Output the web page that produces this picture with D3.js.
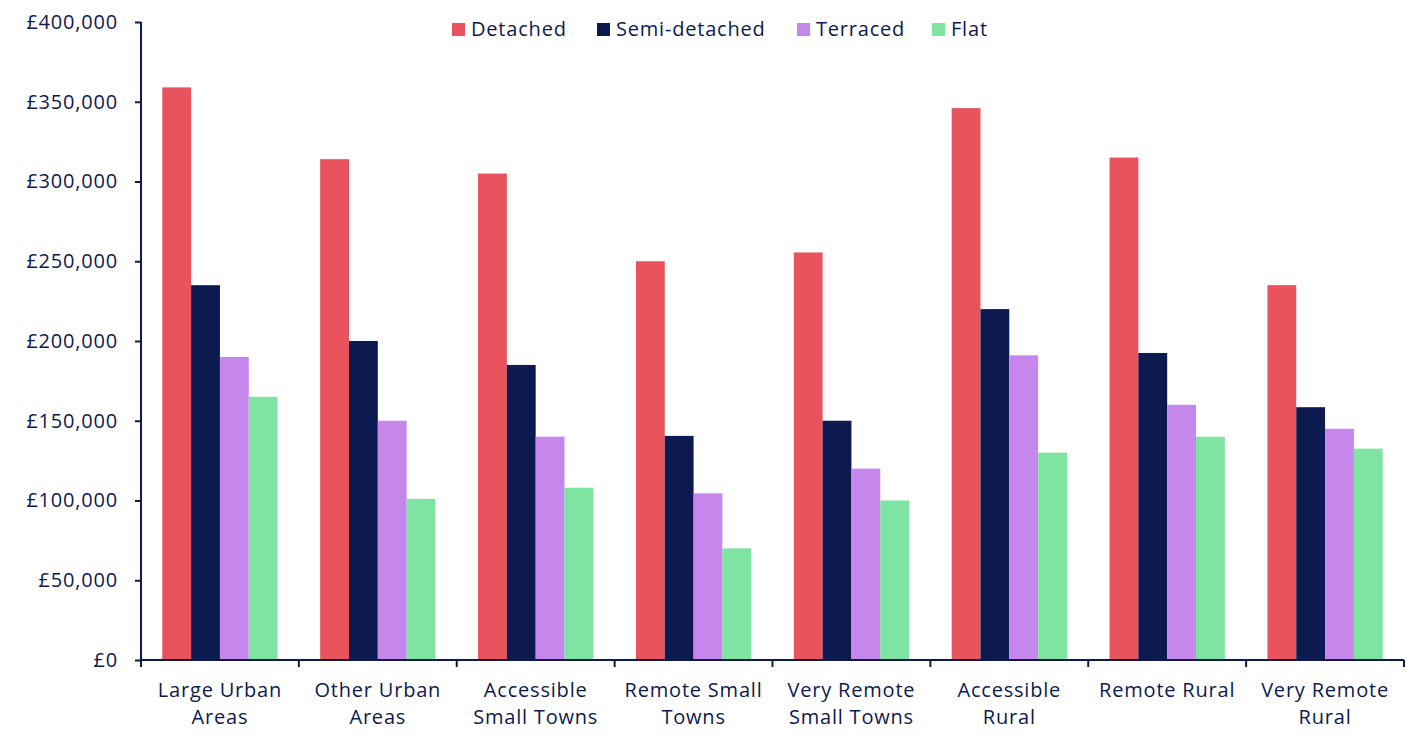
<!DOCTYPE html>
<html>
<head>
<meta charset="utf-8">
<script src="https://cdn.jsdelivr.net/npm/d3@7"></script>
<style>
  body { margin: 0; background: #fff; }
  text { font-family: "Open Sans", Lato, sans-serif; fill: #0d1a4f; letter-spacing: 0.8px; }
</style>
</head>
<body>
<script>
// Chart data
var categories = ["Large Urban Areas", "Other Urban Areas", "Accessible Small Towns", "Remote Small Towns",
                  "Very Remote Small Towns", "Accessible Rural", "Remote Rural", "Very Remote Rural"];
var seriesNames = ["Detached", "Semi-detached", "Terraced", "Flat"];
var detached = [359000, 314000, 305000, 250000, 255500, 346000, 315000, 235000];
var semiDetached = [235000, 200000, 185000, 140500, 150000, 220000, 192500, 158500];
var terraced = [190000, 150000, 140000, 104500, 120000, 191000, 160000, 145000];
var flat = [165000, 101000, 108000, 70000, 100000, 130000, 140000, 132500];
var yTicks = [0, 50000, 100000, 150000, 200000, 250000, 300000, 350000, 400000];
var colors = ["#e9535e", "#0d1a4f", "#c587eb", "#7fe3a2"];

var series = [detached, semiDetached, terraced, flat];

var W = 1428, H = 745;
var margin = {top: 22, right: 24, bottom: 85, left: 141},
    width = W - margin.left - margin.right,
    height = H - margin.top - margin.bottom;

var svg = d3.select("body").append("svg")
    .attr("width", W)
    .attr("height", H)
  .append("g")
    .attr("transform", "translate(" + margin.left + "," + margin.top + ")");

var x0 = d3.scaleBand().domain(categories).range([0, width]).paddingInner(0).paddingOuter(0);
var x1 = d3.scaleBand().domain(seriesNames).range([21.3, x0.bandwidth() - 21.3]);
var y = d3.scaleLinear().domain([0, 400000]).range([height, 0]);

// Bars
var rows = categories.map(function(c, i) {
  return {cat: c, vals: seriesNames.map(function(s, j) { return {key: s, value: series[j][i], idx: j}; })};
});

var groups = svg.selectAll(".group")
    .data(rows)
  .enter().append("g")
    .attr("transform", function(d) { return "translate(" + x0(d.cat) + ",0)"; });

groups.selectAll("rect")
    .data(function(d) { return d.vals; })
  .enter().append("rect")
    .attr("x", function(d) { return x1(d.key); })
    .attr("width", x1.bandwidth())
    .attr("y", function(d) { return y(d.value); })
    .attr("height", function(d) { return height - y(d.value); })
    .attr("fill", function(d) { return colors[d.idx]; });

// Y axis
var fmt = function(d) { return "£" + d3.format(",")(d); };
var yAxis = svg.append("g")
    .call(d3.axisLeft(y).tickValues(yTicks).tickFormat(fmt).tickSize(6).tickPadding(17));
yAxis.select(".domain").attr("stroke", "#0d1a4f").attr("stroke-width", 2).attr("d", "M0," + height + "V0");
yAxis.selectAll(".tick line").attr("stroke", "#0d1a4f").attr("stroke-width", 2);
yAxis.selectAll("text").style("font-size", "20px");

// X axis
var xAxis = svg.append("g")
    .attr("transform", "translate(0," + height + ")")
    .call(d3.axisBottom(x0).tickSize(0).tickPadding(0));
xAxis.select(".domain").attr("stroke", "#0d1a4f").attr("stroke-width", 2).attr("d", "M0,0H" + width);
xAxis.selectAll(".tick text").remove();

// Category boundary ticks
var bounds = [0].concat(categories.map(function(c) { return x0(c) + x0.bandwidth(); }));
xAxis.selectAll(".bound")
    .data(bounds)
  .enter().append("line")
    .attr("x1", function(d) { return d; })
    .attr("x2", function(d) { return d; })
    .attr("y1", 0)
    .attr("y2", 7)
    .attr("stroke", "#0d1a4f")
    .attr("stroke-width", 2);

// Wrapped category labels
var labelLines = {
  "Large Urban Areas": ["Large Urban", "Areas"],
  "Other Urban Areas": ["Other Urban", "Areas"],
  "Accessible Small Towns": ["Accessible", "Small Towns"],
  "Remote Small Towns": ["Remote Small", "Towns"],
  "Very Remote Small Towns": ["Very Remote", "Small Towns"],
  "Accessible Rural": ["Accessible", "Rural"],
  "Remote Rural": ["Remote Rural"],
  "Very Remote Rural": ["Very Remote", "Rural"]
};
categories.forEach(function(c) {
  var t = xAxis.append("text")
      .attr("x", x0(c) + x0.bandwidth() / 2)
      .attr("y", 37)
      .attr("text-anchor", "middle")
      .style("font-size", "20px");
  labelLines[c].forEach(function(l, k) {
    t.append("tspan")
        .attr("x", x0(c) + x0.bandwidth() / 2)
        .attr("dy", k === 0 ? 0 : 27)
        .text(l);
  });
});

// Legend
var legendX = [452, 597, 797, 932];
var legend = svg.append("g").attr("transform", "translate(0," + (-margin.top) + ")");
seriesNames.forEach(function(s, i) {
  var lx = legendX[i] - margin.left;
  legend.append("rect")
      .attr("x", lx)
      .attr("y", 23)
      .attr("width", 13)
      .attr("height", 13)
      .attr("fill", colors[i]);
  legend.append("text")
      .attr("x", lx + 19)
      .attr("y", 36)
      .style("font-size", "20px")
      .text(s);
});
</script>
</body>
</html>
